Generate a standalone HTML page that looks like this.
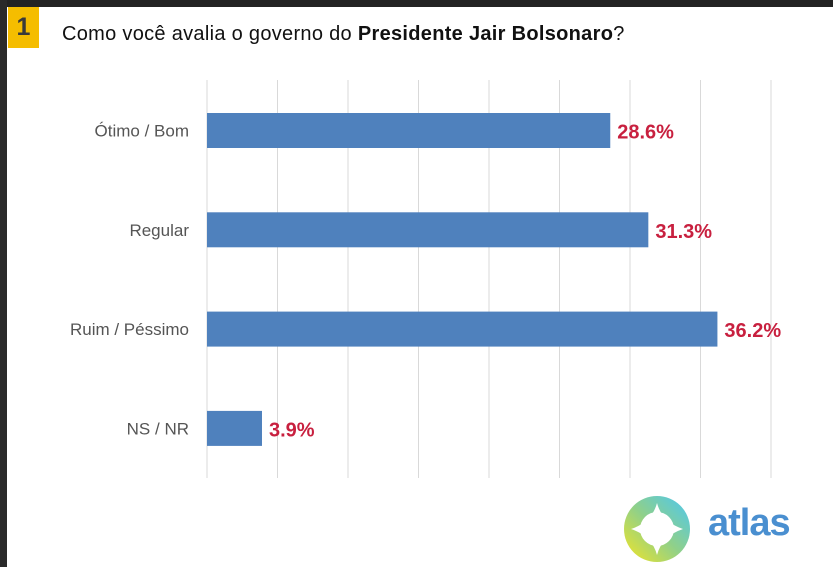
<!DOCTYPE html>
<html><head><meta charset="utf-8"><style>
body{margin:0;width:833px;height:567px;overflow:hidden;background:#fff;font-family:"Liberation Sans","DejaVu Sans",sans-serif}
#frame{position:absolute;left:0;top:0;width:833px;height:567px}
</style></head><body>
<div id="frame">
<div style="position:absolute;left:0;top:0;width:833px;height:7px;background:#232323"></div>
<div style="position:absolute;left:0;top:0;width:7px;height:567px;background:#2a2a2a"></div>
<div style="position:absolute;left:8px;top:7px;width:31px;height:41px;background:#f5bd00;color:#3a3a3a;font-weight:bold;font-size:25px;line-height:41px;text-align:center">1</div>
<div style="position:absolute;left:62px;top:23px;font-size:20px;letter-spacing:0.3px;color:#111">Como você avalia o governo do <b>Presidente Jair Bolsonaro</b>?</div>
<svg id="chart" width="833" height="567" style="position:absolute;left:0;top:0"></svg>
<svg width="70" height="70" style="position:absolute;left:622px;top:494px" viewBox="0 0 70 70">
<defs><linearGradient id="g" x1="0" y1="1" x2="1" y2="0"><stop offset="0" stop-color="#f3e524"/><stop offset="0.5" stop-color="#8fd08a"/><stop offset="1" stop-color="#4cc7f2"/></linearGradient></defs>
<circle cx="35" cy="35" r="33" fill="url(#g)"/>
<path d="M35 9 Q40 28 61 35 Q40 42 35 61 Q30 42 9 35 Q30 28 35 9Z" fill="#fff"/>
<circle cx="35" cy="35" r="17" fill="#fff"/>
</svg>
<div style="position:absolute;left:708px;top:502px;font-size:38px;font-weight:bold;color:#4a8fd0;letter-spacing:-1px">atlas</div>
</div>
<script>
const categories=["Ótimo / Bom","Regular","Ruim / Péssimo","NS / NR"];
const values=[28.6,31.3,36.2,3.9];
const ticks=[0,5,10,15,20,25,30,35,40];
const svg=document.getElementById('chart');
const NS='http://www.w3.org/2000/svg';
const x0=207,pxPer=14.1;
const xs=v=>x0+v*pxPer;
const yc=i=>130.5+i*99.3;
ticks.forEach(t=>{
 const l=document.createElementNS(NS,'line');
 
 
 l.setAttribute('x1',xs(t));l.setAttribute('x2',xs(t));l.setAttribute('y1',80);l.setAttribute('y2',478);
 l.setAttribute('stroke','#d9d9d9');l.setAttribute('stroke-width','1');
 svg.appendChild(l);
});
categories.forEach((c,i)=>{
 const r=document.createElementNS(NS,'rect');
 
 
 r.setAttribute('x',x0);r.setAttribute('y',yc(i)-17.5);r.setAttribute('width',values[i]*pxPer);r.setAttribute('height',35);
 r.setAttribute('fill','#4f81bd');
 svg.appendChild(r);
 const t=document.createElementNS(NS,'text');
 
 
 t.setAttribute('x',189);t.setAttribute('y',yc(i)+6);t.setAttribute('text-anchor','end');
 t.setAttribute('font-size','17');t.setAttribute('fill','#555');
 t.textContent=c;svg.appendChild(t);
 const v=document.createElementNS(NS,'text');
 
 
 v.setAttribute('x',xs(values[i])+7);v.setAttribute('y',yc(i)+8);
 v.setAttribute('font-size','20');v.setAttribute('font-weight','bold');v.setAttribute('fill','#c8203f');
 v.textContent=values[i].toFixed(1)+'%';svg.appendChild(v);
});
</script>
</body></html>
